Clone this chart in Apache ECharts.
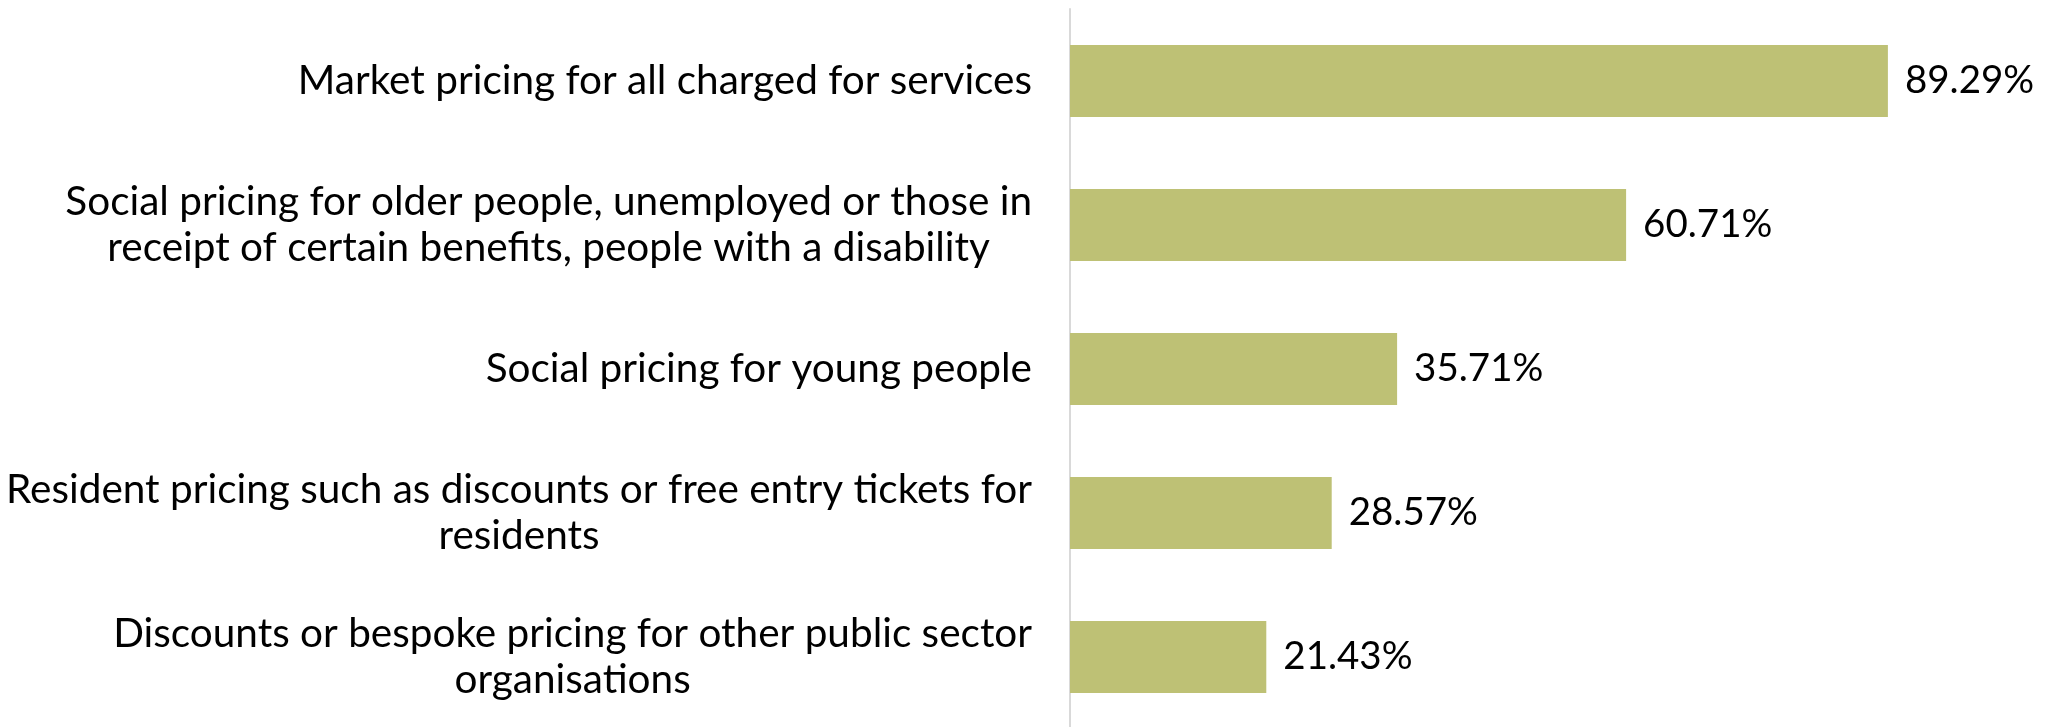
<!DOCTYPE html>
<html>
<head>
<meta charset="utf-8">
<script src="https://cdn.jsdelivr.net/npm/echarts@6/dist/echarts.min.js"></script>
<style>
html,body{margin:0;padding:0;background:#fff;}
#chart{width:2053px;height:727px;}
</style>
</head>
<body>
<div id="chart"></div>
<script>
const categories = [
  "Market pricing for all charged for services",
  "Social pricing for older people, unemployed or those in\nreceipt of certain benefits, people with a disability",
  "Social pricing for young people",
  "Resident pricing such as discounts or free entry tickets for\nresidents",
  "Discounts or bespoke pricing for other public sector\norganisations"
];
const values = [89.29, 60.71, 35.71, 28.57, 21.43];

const FONT = "Lato";
const chart = echarts.init(document.getElementById('chart'));
chart.setOption({
  animation: false,
  grid: { left: 1070, right: 67, top: 9, height: 720, containLabel: false, outerBoundsMode: 'none' },
  xAxis: { type: 'value', min: 0, max: 100, show: false },
  yAxis: {
    type: 'category',
    data: categories,
    inverse: true,
    axisLine: { show: true, lineStyle: { color: '#d9d9d9', width: 2 } },
    axisTick: { show: false },
    axisLabel: {
      color: '#000', fontFamily: FONT, fontSize: 40.5, lineHeight: 46,
      margin: 38, align: 'right',
      formatter: v => v.split('\n').map(l => '{c|' + l + '}').join('\n'),
      rich: {
        c: { align: 'center', color: '#000', fontFamily: FONT, fontSize: 40.5, lineHeight: 46 }
      }
    }
  },
  series: [{
    type: 'bar',
    data: values,
    barCategoryGap: '50%',
    itemStyle: { color: '#BEC175' },
    label: {
      show: true, position: 'right', distance: 17,
      color: '#000', fontFamily: FONT, fontSize: 38.5,
      formatter: p => p.value.toFixed(2) + '%'
    }
  }]
});
</script>
</body>
</html>
